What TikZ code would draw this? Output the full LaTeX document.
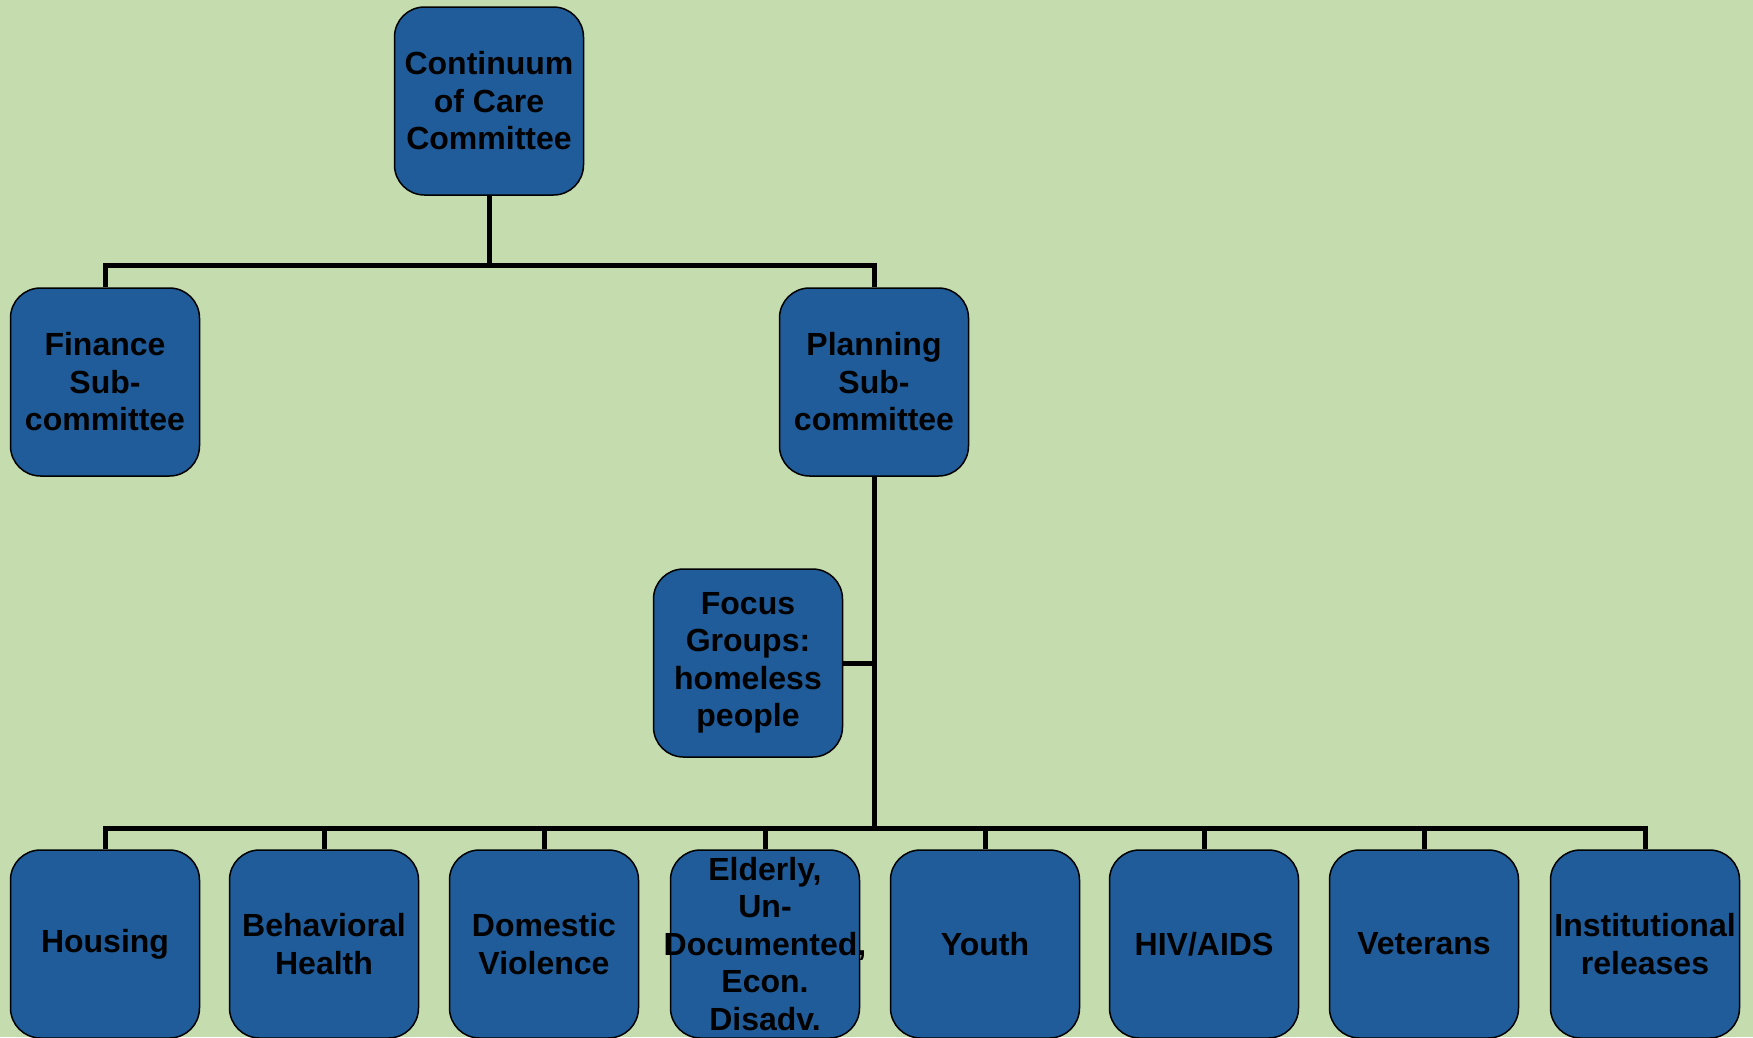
\documentclass[tikz,border=0pt]{standalone}
\usepackage{fontspec}
\setmainfont{Liberation Sans}
\definecolor{pagegreen}{RGB}{196,220,174}
\definecolor{boxblue}{RGB}{31,92,153}
\begin{document}
\begin{tikzpicture}[x=1pt,y=-1pt,
  unit/.style={draw=black, line width=1.5pt, fill=boxblue, rounded corners=30pt,
    minimum width=189pt, minimum height=188pt, inner sep=0pt, align=center,
    font=\bfseries\fontsize{32}{37.5}\selectfont},
  conn/.style={draw=black, line width=5pt, line join=miter}]
\fill[pagegreen] (0,0) rectangle (1753,1037);
\useasboundingbox (0,0) rectangle (1753,1037);

% top level
\node[unit] (coc) at (489,101) {Continuum\\of Care\\Committee};
\node[unit] (finance) at (105,382) {Finance\\Sub-\\committee};
\node[unit] (planning) at (874,382) {Planning\\Sub-\\committee};
\node[unit] (focus) at (748,663) {Focus\\Groups:\\homeless\\people};

% subgroups
\node[unit] (housing) at (105,944) {Housing};
\node[unit] (behav) at (324,944) {Behavioral\\Health};
\node[unit] (domestic) at (544,944) {Domestic\\Violence};
\node[unit] (elderly) at (765,944) {Elderly,\\Un-\\\makebox[0pt]{Documented,}\\Econ.\\Disadv.};
\node[unit] (youth) at (985,944) {Youth};
\node[unit] (hiv) at (1204,944) {HIV/AIDS};
\node[unit] (veterans) at (1424,944) {Veterans};
\node[unit] (inst) at (1645,944) {Institutional\\releases};

% connectors
\draw[conn] (coc.south) -- ++(0,70) coordinate (topbus);
\draw[conn] (finance.north) |- (topbus) -| (planning.north);
\draw[conn] (planning.south) -- ++(0,352) coordinate (lowbus);
\draw[conn] (focus.east) -- (focus.east -| planning.south);
\foreach \n in {housing,behav,domestic,elderly,youth,hiv,veterans,inst}
  \draw[conn] (lowbus) -| (\n.north);
\end{tikzpicture}
\end{document}
